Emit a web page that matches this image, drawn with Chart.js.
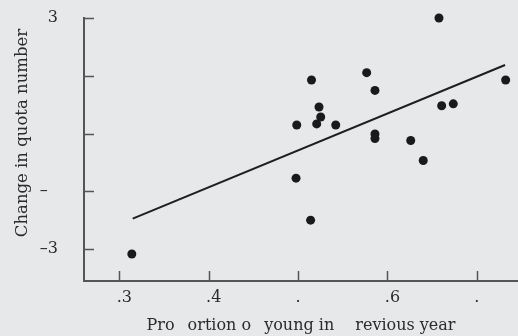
<!DOCTYPE html>
<html>
<head>
<meta charset="utf-8">
<script src="https://cdn.jsdelivr.net/npm/chart.js@4.4.1/dist/chart.umd.min.js"></script>
<style>
    html, body { margin: 0; padding: 0; background: #e7e8ea; }
    #wrap { width: 518px; height: 336px; }
</style>
</head>
<body>
<div id="wrap"><canvas id="scatter"></canvas></div>
<script>
// proportion of young vs change in quota number
var propYoung = [0.314, 0.4985, 0.4977, 0.515, 0.5234, 0.5253, 0.5208, 0.5421, 0.5767, 0.586,
                 0.586, 0.586, 0.626, 0.640, 0.6576, 0.6606, 0.6736, 0.7322, 0.514];
var quotaChange = [-3.13, 0.22, -1.16, 1.39, 0.69, 0.43, 0.25, 0.22, 1.58, 1.12,
                   -0.01, -0.13, -0.18, -0.70, 3.0, 0.72, 0.77, 1.39, -2.25];
var fitX = [0.315, 0.7315];
var fitY = [-2.21, 1.78];

var xTicks = [0.3, 0.4, 0.5, 0.6, 0.7];
var xTickLabels = ['.3', '.4', '.\u2007', '.6', '.\u2007'];
var yTicks = [-3, -1.5, 0, 1.5, 3];
var yTickLabels = ['\u20133', '\u2013\u2007', '', '', '3'];

var ink = '#2b2b2b';
var axisGray = '#555';
var serif = "'DejaVu Serif', serif";

// tick marks point inward, drawn from the scales' own tick pixels
var innerTicks = {
    id: 'innerTicks',
    afterDraw: function(chart) {
        var c = chart.ctx, xs = chart.scales.x, ys = chart.scales.y, area = chart.chartArea;
        c.save();
        c.strokeStyle = axisGray;
        c.lineWidth = 1.5;
        xs.ticks.forEach(function(t, i) {
            var px = Math.round(xs.getPixelForTick(i)) + 0.5;
            c.beginPath();
            c.moveTo(px, area.bottom);
            c.lineTo(px, area.bottom - 10);
            c.stroke();
        });
        ys.ticks.forEach(function(t, i) {
            var py = Math.round(ys.getPixelForTick(i)) + 0.5;
            c.beginPath();
            c.moveTo(area.left, py);
            c.lineTo(area.left + 10, py);
            c.stroke();
        });
        c.restore();
    }
};

var points = propYoung.map(function(x, i) { return {x: x, y: quotaChange[i]}; });
var fitLine = fitX.map(function(x, i) { return {x: x, y: fitY[i]}; });

new Chart(document.getElementById('scatter'), {
    type: 'scatter',
    data: {
        datasets: [
            {
                data: points,
                backgroundColor: '#1a1a1a',
                borderWidth: 0,
                pointRadius: 4.5,
                clip: false
            },
            {
                data: fitLine,
                showLine: true,
                borderColor: '#1e1e1e',
                borderWidth: 2,
                pointRadius: 0
            }
        ]
    },
    options: {
        responsive: true,
        maintainAspectRatio: false,
        animation: false,
        layout: { autoPadding: false, padding: { top: 18, right: 0, left: 0, bottom: 0 } },
        plugins: { legend: { display: false }, tooltip: { enabled: false } },
        scales: {
            x: {
                type: 'linear',
                min: 0.2605,
                max: 0.746,
                afterBuildTicks: function(scale) {
                    scale.ticks = xTicks.map(function(v) { return {value: v}; });
                },
                afterFit: function(scale) {
                    scale.height = 55;
                    scale.paddingLeft = 0;
                    scale.paddingRight = 0;
                },
                grid: { display: false, drawTicks: false },
                border: { display: true, color: axisGray, width: 2 },
                ticks: {
                    autoSkip: false,
                    maxRotation: 0,
                    padding: 7,
                    labelOffset: 5,
                    color: ink,
                    font: { family: serif, size: 16 },
                    callback: function(value) { return xTickLabels[xTicks.indexOf(value)]; }
                },
                title: {
                    display: true,
                    text: 'Pro\u2002 ortion o\u2002 young in\u2002\u2002 revious year',
                    color: ink,
                    font: { family: serif, size: 16 },
                    padding: { top: 0, bottom: 1 }
                }
            },
            y: {
                type: 'linear',
                min: -3.83,
                max: 3,
                afterBuildTicks: function(scale) {
                    scale.ticks = yTicks.map(function(v) { return {value: v}; });
                },
                afterFit: function(scale) {
                    scale.width = 84;
                    scale.paddingTop = 0;
                    scale.paddingBottom = 0;
                },
                grid: { display: false, drawTicks: false },
                border: { display: true, color: axisGray, width: 2 },
                ticks: {
                    autoSkip: false,
                    padding: 26,
                    color: ink,
                    font: { family: serif, size: 16 },
                    callback: function(value) { return yTickLabels[yTicks.indexOf(value)]; }
                },
                title: {
                    display: true,
                    // leading em spaces lift the title to sit over the -3..3 span
                    text: '\u2003\u2003Change in quota number',
                    color: ink,
                    font: { family: serif, size: 16.5 },
                    padding: { top: 13, bottom: 0 }
                }
            }
        }
    },
    plugins: [innerTicks]
});
</script>
</body>
</html>
